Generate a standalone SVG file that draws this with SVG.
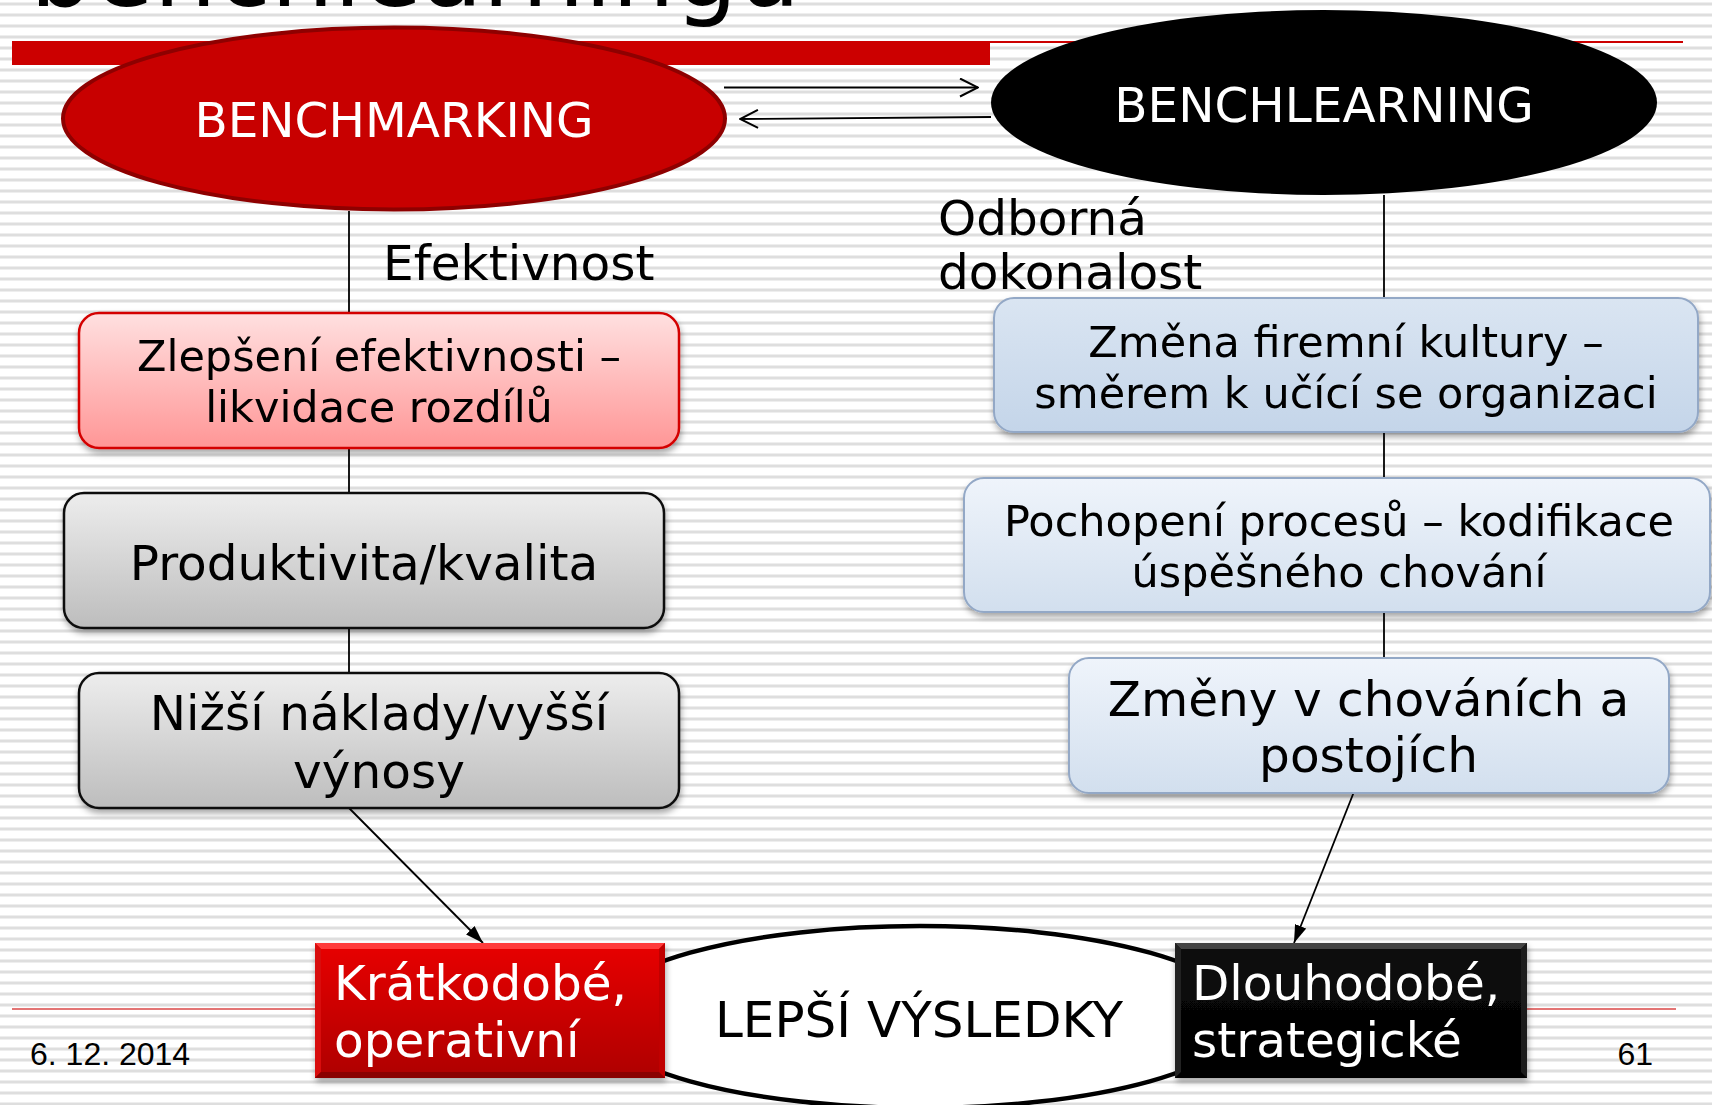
<svg xmlns="http://www.w3.org/2000/svg" width="1712" height="1105" viewBox="0 0 1712 1105">
  <defs>
    <pattern id="stripes" patternUnits="userSpaceOnUse" x="0" y="0" width="40" height="11">
      <rect x="0" y="0" width="40" height="11" fill="#ffffff"/>
      <rect x="0" y="2" width="40" height="1" fill="#eeeeee"/>
      <rect x="0" y="3" width="40" height="2" fill="#dedede"/>
      <rect x="0" y="5" width="40" height="1" fill="#eeeeee"/>
    </pattern>
    <linearGradient id="pinkGrad" x1="0" y1="0" x2="0" y2="1">
      <stop offset="0" stop-color="#ffe0e0"/>
      <stop offset="1" stop-color="#ff9696"/>
    </linearGradient>
    <linearGradient id="grayGrad" x1="0" y1="0" x2="0" y2="1">
      <stop offset="0" stop-color="#ededed"/>
      <stop offset="1" stop-color="#bdbdbd"/>
    </linearGradient>
    <linearGradient id="blueGradDark" x1="0" y1="0" x2="0" y2="1">
      <stop offset="0" stop-color="#dae5f2"/>
      <stop offset="1" stop-color="#c4d5e9"/>
    </linearGradient>
    <linearGradient id="blueGradLight" x1="0" y1="0" x2="0" y2="1">
      <stop offset="0" stop-color="#eff4fb"/>
      <stop offset="1" stop-color="#d2dfee"/>
    </linearGradient>
    <linearGradient id="redGrad" x1="0" y1="0" x2="0" y2="1">
      <stop offset="0" stop-color="#e80404"/>
      <stop offset="1" stop-color="#ae0000"/>
    </linearGradient>
    <linearGradient id="blackGrad" x1="0" y1="0" x2="0" y2="1">
      <stop offset="0" stop-color="#0c0c0c"/>
      <stop offset="1" stop-color="#000000"/>
    </linearGradient>
    <filter id="shadow" x="-10%" y="-10%" width="120%" height="130%">
      <feDropShadow dx="1" dy="4" stdDeviation="3" flood-color="#000000" flood-opacity="0.35"/>
    </filter>
    <marker id="openHead" viewBox="0 0 20 20" refX="19" refY="10" markerWidth="20" markerHeight="20" markerUnits="userSpaceOnUse" orient="auto">
      <path d="M1,1 L19,10 L1,19" fill="none" stroke="#000" stroke-width="2"/>
    </marker>
    <marker id="solidHead" viewBox="0 0 18 12" refX="18" refY="6" markerWidth="18" markerHeight="12" markerUnits="userSpaceOnUse" orient="auto">
      <path d="M0,0 L18,6 L0,12 z" fill="#000"/>
    </marker>
    <style>
      .t { font-family: "DejaVu Sans", Verdana, sans-serif; }
      .c { text-anchor: middle; }
      .w { fill: #ffffff; }
      .k { fill: #000000; }
      .f48 { font-size: 48.5px; }
      .f43 { font-size: 43px; }
      .conn { stroke: #000; stroke-width: 1.8; fill: none; }
      .foot { font-family: "Liberation Sans", Arial, sans-serif; font-size: 32px; fill: #000; }
    </style>
  </defs>

  <!-- slide background with fine horizontal ruling -->
  <rect x="0" y="0" width="1712" height="1105" fill="url(#stripes)"/>

  <!-- title (runs off the top edge) -->
  <text class="t k" x="30" y="6" font-size="99">benchlearningu</text>

  <!-- header rule -->
  <rect x="12" y="41" width="978" height="24" fill="#cc0000"/>
  <rect x="990" y="41" width="693" height="2" fill="#cc0000"/>

  <!-- footer rule -->
  <rect x="12" y="1008" width="1664" height="2" fill="#e37575"/>
  <text class="foot" x="30" y="1065">6. 12. 2014</text>
  <text class="foot" x="1653" y="1065" text-anchor="end">61</text>

  <!-- connectors -->
  <g id="connectors">
    <line class="conn" x1="349" y1="211" x2="349" y2="313"/>
    <line class="conn" x1="349" y1="448" x2="349" y2="493"/>
    <line class="conn" x1="349" y1="628" x2="349" y2="673"/>
    <line class="conn" x1="1384" y1="195" x2="1384" y2="298"/>
    <line class="conn" x1="1384" y1="432" x2="1384" y2="478"/>
    <line class="conn" x1="1384" y1="612" x2="1384" y2="658"/>
    <line class="conn" x1="724" y1="87.5" x2="978" y2="87.5" marker-end="url(#openHead)"/>
    <line class="conn" x1="991" y1="117" x2="740" y2="119" marker-end="url(#openHead)"/>
    <line class="conn" x1="349" y1="808" x2="483" y2="943" marker-end="url(#solidHead)"/>
    <line class="conn" x1="1353.5" y1="793" x2="1294" y2="943" marker-end="url(#solidHead)"/>
  </g>

  <!-- top ellipses -->
  <g id="benchmarking">
    <ellipse cx="394" cy="118.5" rx="331" ry="91" fill="#c80000" stroke="#8e0000" stroke-width="4"/>
    <text class="t w f48 c" x="394" y="137">BENCHMARKING</text>
  </g>
  <g id="benchlearning">
    <ellipse cx="1324" cy="102.5" rx="333" ry="92.5" fill="#000000"/>
    <text class="t w f48 c" x="1324" y="122">BENCHLEARNING</text>
  </g>

  <!-- side labels -->
  <g id="label-efektivnost">
    <text class="t k f48" x="383" y="280">Efektivnost</text>
  </g>
  <g id="label-odborna">
    <text class="t k f48" x="938" y="235">Odborná</text>
    <text class="t k f48" x="938" y="289">dokonalost</text>
  </g>

  <!-- left column -->
  <g id="zlepseni" filter="url(#shadow)">
    <rect x="79" y="313" width="600" height="135" rx="20" fill="url(#pinkGrad)" stroke="#d40000" stroke-width="2.5"/>
    <text class="t k f43 c" x="379" y="371">Zlepšení efektivnosti –</text>
    <text class="t k f43 c" x="379" y="422">likvidace rozdílů</text>
  </g>
  <g id="produktivita" filter="url(#shadow)">
    <rect x="64" y="493" width="600" height="135" rx="20" fill="url(#grayGrad)" stroke="#111" stroke-width="2.5"/>
    <text class="t k f48 c" x="364" y="580">Produktivita/kvalita</text>
  </g>
  <g id="naklady" filter="url(#shadow)">
    <rect x="79" y="673" width="600" height="135" rx="20" fill="url(#grayGrad)" stroke="#111" stroke-width="2.5"/>
    <text class="t k f48 c" x="379" y="730">Nižší náklady/vyšší</text>
    <text class="t k f48 c" x="379" y="788">výnosy</text>
  </g>

  <!-- right column -->
  <g id="kultura" filter="url(#shadow)">
    <rect x="994" y="298" width="704" height="134" rx="20" fill="url(#blueGradDark)" stroke="#93a8c6" stroke-width="2"/>
    <text class="t k f43 c" x="1346" y="357">Změna firemní kultury –</text>
    <text class="t k f43 c" x="1346" y="408">směrem k učící se organizaci</text>
  </g>
  <g id="procesy" filter="url(#shadow)">
    <rect x="964" y="478" width="746" height="134" rx="20" fill="url(#blueGradLight)" stroke="#93a8c6" stroke-width="2"/>
    <text class="t k f43 c" x="1339" y="536">Pochopení procesů – kodifikace</text>
    <text class="t k f43 c" x="1339" y="587">úspěšného chování</text>
  </g>
  <g id="chovani" filter="url(#shadow)">
    <rect x="1069" y="658" width="600" height="135" rx="20" fill="url(#blueGradLight)" stroke="#93a8c6" stroke-width="2"/>
    <text class="t k f48 c" x="1368.5" y="716">Změny v chováních a</text>
    <text class="t k f48 c" x="1368.5" y="772">postojích</text>
  </g>

  <!-- results -->
  <g id="vysledky">
    <ellipse cx="920" cy="1017" rx="325" ry="91" fill="#ffffff" stroke="#000" stroke-width="4.5"/>
    <text class="t k c" x="919" y="1037" font-size="50">LEPŠÍ VÝSLEDKY</text>
  </g>
  <g id="kratkodobe" filter="url(#shadow)">
    <rect x="315" y="943" width="350" height="135" fill="url(#redGrad)"/>
    <polygon points="315,943 665,943 659,949 321,949" fill="#ff3a3a"/>
    <polygon points="315,943 321,949 321,1072 315,1078" fill="#d81010"/>
    <polygon points="665,943 659,949 659,1072 665,1078" fill="#c00000"/>
    <polygon points="315,1078 321,1072 659,1072 665,1078" fill="#8a0000"/>
    <text class="t w f48" x="334" y="1000">Krátkodobé,</text>
    <text class="t w f48" x="334" y="1057">operativní</text>
  </g>
  <g id="dlouhodobe" filter="url(#shadow)">
    <rect x="1175" y="943" width="352" height="135" fill="url(#blackGrad)"/>
    <polygon points="1175,943 1527,943 1521,949 1181,949" fill="#444444"/>
    <polygon points="1175,943 1181,949 1181,1072 1175,1078" fill="#222222"/>
    <polygon points="1527,943 1521,949 1521,1072 1527,1078" fill="#1a1a1a"/>
    <text class="t w f48" x="1192" y="1000">Dlouhodobé,</text>
    <text class="t w f48" x="1192" y="1057">strategické</text>
  </g>
</svg>
